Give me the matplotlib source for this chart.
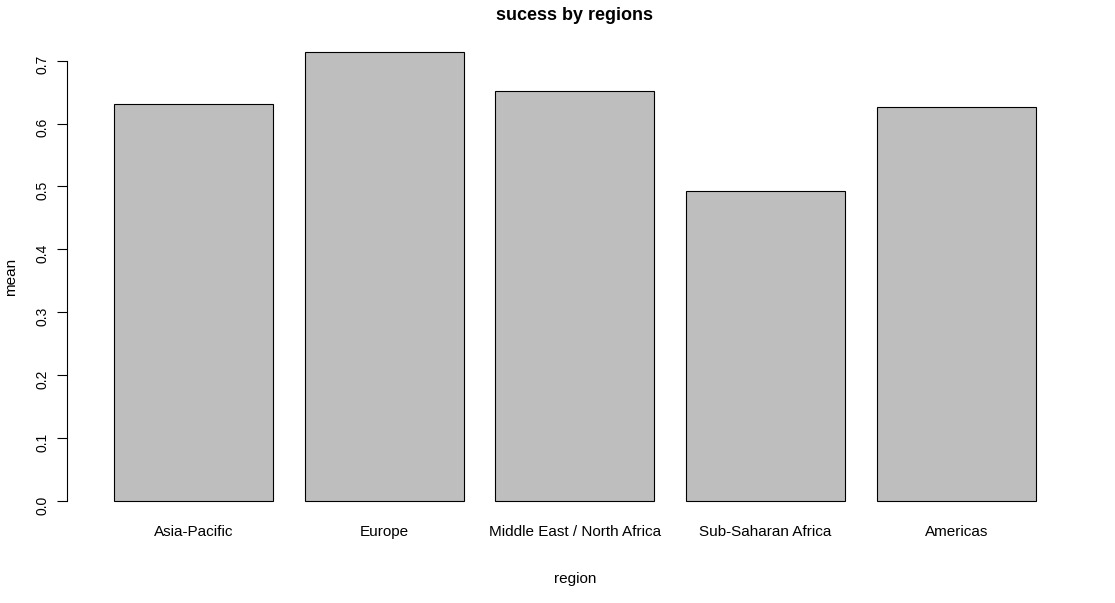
import matplotlib
matplotlib.use("Agg")
import matplotlib.pyplot as plt

regions = ["Asia-Pacific", "Europe", "Middle East / North Africa", "Sub-Saharan Africa", "Americas"]
means = [0.631, 0.714, 0.651, 0.493, 0.627]
yticks = [0.0, 0.1, 0.2, 0.3, 0.4, 0.5, 0.6, 0.7]

plt.rcParams["font.family"] = ["Liberation Sans", "DejaVu Sans"]
fig = plt.figure(figsize=(11.15, 6.03), dpi=100)
ax = fig.add_axes([0.069, 0.139, 0.893, 0.805])

x = [0.7 + 1.2 * i for i in range(len(means))]
ax.bar(x, means, width=1.0, color="#bebebe", edgecolor="black", linewidth=0.8)
ax.set_xlim(-0.032, 6.232)
top = max(means)
ax.set_ylim(-0.04 * top, 1.04 * top)

ax.set_xticks(x)
ax.set_xticklabels(regions, fontsize=11)
ax.tick_params(axis="x", length=0, pad=4)
ax.set_yticks(yticks)
ax.set_yticklabels([f"{v:.1f}" for v in yticks], fontsize=11)
ax.tick_params(axis="y", length=7, width=0.8, pad=6, labelrotation=90)
for lbl in ax.get_yticklabels():
    lbl.set_va("center")
for s in ["top", "right", "bottom"]:
    ax.spines[s].set_visible(False)
ax.spines["left"].set_bounds(0, 0.7)
ax.spines["left"].set_position(("outward", 7))
ax.spines["left"].set_linewidth(0.8)

ax.set_xlabel("region", fontsize=11, labelpad=24)
ax.set_ylabel("mean", fontsize=11, labelpad=12)
ax.set_title("sucess by regions", fontsize=13, fontweight="bold", pad=10)

fig.savefig("out.png", dpi=100)
plt.close(fig)
